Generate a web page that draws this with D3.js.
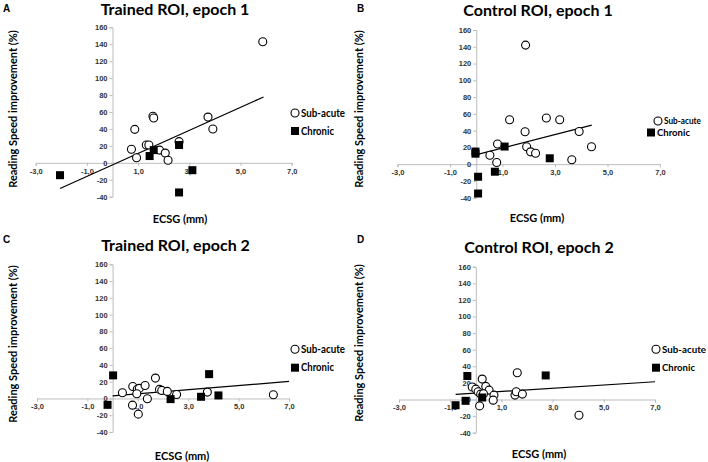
<!DOCTYPE html>
<html>
<head>
<meta charset="utf-8">
<script src="https://cdn.jsdelivr.net/npm/d3@7"></script>
<style>
  body { margin: 0; background: #fff; }
  svg { display: block; }
  .tick-label { font-family: "Liberation Sans", Arial, sans-serif; font-weight: bold; font-size: 7.5px; fill: #333; }
  .title { font-family: Lato, "Open Sans", sans-serif; font-weight: bold; font-size: 16px; fill: #000; }
  .axis-title { font-family: Lato, "Open Sans", sans-serif; font-weight: bold; font-size: 11px; fill: #000; }
  .legend-text { font-family: Lato, "Open Sans", sans-serif; font-weight: bold; fill: #000; }
  .letter { font-family: "Liberation Sans", Arial, sans-serif; font-weight: bold; font-size: 10px; fill: #000; }
</style>
</head>
<body>
<svg id="chart" width="708" height="462"></svg>
<script>
// ---- data ----
var xTicks = [-3, -1, 1, 3, 5, 7];
var yTicks = [-40, -20, 0, 20, 40, 60, 80, 100, 120, 140, 160];
var seriesNames = ['Sub-acute', 'Chronic'];
var panelLetters = ['A', 'B', 'C', 'D'];
var panelTitles = ['Trained ROI, epoch 1', 'Control ROI, epoch 1',
                   'Trained ROI, epoch 2', 'Control ROI, epoch 2'];
var xLabel = 'ECSG (mm)';
var yLabel = 'Reading Speed improvement (%)';

var subA = [[5.87, 143], [1.58, 55], [1.61, 53], [0.87, 39.5], [3.73, 54], [3.92, 40],
            [0.74, 16], [0.94, 6], [1.32, 21], [1.42, 21], [1.84, 15], [2.06, 11.5],
            [2.17, 3], [2.6, 25]];
var chrA = [[-2.05, -14.6], [1.45, 8], [1.61, 15], [2.6, 21], [3.12, -8.7], [2.6, -35]];
var trendA = [[-2.05, -30.4], [5.9, 77.8]];

var subB = [[1.88, 142], [1.27, 53], [2.67, 55], [3.18, 53], [1.86, 38.6], [3.92, 39],
            [0.81, 24], [1.92, 20.7], [4.39, 20.7], [2.07, 14.7], [2.26, 13], [0.52, 10.7],
            [0.78, 2], [3.64, 5.2]];
var chrB = [[-0.03, 15], [-0.03, 12.5], [0.07, -15], [0.07, -35], [0.71, -9], [1.08, 21], [2.8, 7]];
var trendB = [[-0.02, 11.1], [4.4, 46.6]];

var subC = [[0.39, 6.8], [0.8, 14.3], [0.79, -8], [0.98, 11], [1.06, 12], [0.96, 5.6],
            [1.02, -18.7], [1.29, 15.5], [1.38, -0.4], [1.7, 24.3], [1.86, 10.8], [1.95, 9.6],
            [2.17, 8.4], [2.54, 4.8], [3.76, 7.6], [6.38, 4.4]];
var chrC = [[0.02, 27.5], [-0.2, -7.6], [2.3, -0.8], [3.51, 2], [3.83, 29], [4.2, 3.6]];
var trendC = [[0, 3.2], [7, 20.3]];

var subD = [[1.62, 32.3], [0.25, 24.6], [-0.14, 15], [0, 12.5], [0.09, 9.3], [0.19, 6.5],
            [0.39, 15.8], [0.52, 11.3], [0.71, 5.3], [0.68, -0.8], [0.15, -7.7], [1.53, 5.3],
            [1.58, 9.3], [1.82, 6.5], [4.03, -19], [0.3, 7]];
var chrD = [[-0.33, 28.3], [-0.79, -6.9], [-0.4, -1.6], [0.25, 2.4], [2.73, 29]];
var trendD = [[-0.79, 6.1], [7, 21.4]];

var subacute = [subA, subB, subC, subD];
var chronic = [chrA, chrB, chrC, chrD];
var trends = [trendA, trendB, trendC, trendD];

// ---- layout of each panel (pixels) ----
// legW: widths the two legend texts take in the figure, legF: legend font size
var layout = [
    {x: [35.7, 291.7], y: [196.7, 27.3], title: [175, 15], letter: [3, 12],
     ylab: [13, 109], xlab: [180, 223], legC: [295, 113], legS: [295, 131], legW: [44, 33], legF: 10.5},
    {x: [397.5, 660], y: [197.7, 30], title: [538, 16], letter: [357, 12],
     ylab: [359, 109], xlab: [537, 222], legC: [658, 121], legS: [651, 132.5], legW: [37, 33], legF: 9},
    {x: [37, 289], y: [432, 264.3], title: [175.5, 251], letter: [3, 243],
     ylab: [13, 344], xlab: [182, 460], legC: [295, 349.3], legS: [295, 367.7], legW: [44, 33], legF: 10.5},
    {x: [399, 655], y: [432.7, 266.7], title: [539, 253], letter: [357, 243],
     ylab: [359, 343], xlab: [539, 458], legC: [656, 349.3], legS: [656, 367.7], legW: [44, 33], legF: 10}
];

var locale = d3.formatLocale({decimal: ',', thousands: '.', grouping: [3], currency: ['', ''], minus: '-'});
var fmtX = locale.format('.1f');
var fmtY = locale.format('d');

var svg = d3.select('#chart');

var draw_panel = function(i) {
    var L = layout[i];
    var x = d3.scaleLinear().domain([-3, 7]).range(L.x);
    var y = d3.scaleLinear().domain([-40, 160]).range(L.y);
    var g = svg.append('g').attr('class', 'panel');

    // axes crossing at zero
    var xAxis = d3.axisBottom(x).tickValues(xTicks).tickSize(3).tickFormat(fmtX);
    var yAxis = d3.axisLeft(y).tickValues(yTicks).tickSize(3).tickFormat(fmtY);

    var gx = g.append('g')
        .attr('transform', 'translate(0,' + y(0) + ')')
        .call(xAxis);
    var gy = g.append('g')
        .attr('transform', 'translate(' + x(0) + ',0)')
        .call(yAxis);

    [gx, gy].forEach(function(a) {
        a.select('.domain').attr('stroke', '#bdbdbd').attr('stroke-width', 1);
        a.selectAll('.tick line').attr('stroke', '#bdbdbd');
        a.selectAll('.tick text').attr('class', 'tick-label').attr('font-size', null).attr('font-family', null);
    });
    gx.selectAll('.tick text').attr('dy', '0.9em').attr('y', 4);
    gy.selectAll('.tick text').attr('x', -5);

    // trendline
    g.append('path')
        .datum(trends[i])
        .attr('d', d3.line().x(function(d) { return x(d[0]); }).y(function(d) { return y(d[1]); }))
        .attr('stroke', '#000')
        .attr('stroke-width', 1.2)
        .attr('fill', 'none');

    // sub-acute circles
    g.append('g').selectAll('circle')
        .data(subacute[i])
        .enter()
        .append('circle')
        .attr('cx', function(d) { return x(d[0]); })
        .attr('cy', function(d) { return y(d[1]); })
        .attr('r', 4)
        .attr('fill', '#fff')
        .attr('stroke', '#000')
        .attr('stroke-width', 1.1);

    // chronic squares
    var s = 8;
    g.append('g').selectAll('rect')
        .data(chronic[i])
        .enter()
        .append('rect')
        .attr('x', function(d) { return x(d[0]) - s / 2; })
        .attr('y', function(d) { return y(d[1]) - s / 2; })
        .attr('width', s)
        .attr('height', s)
        .attr('fill', '#000');

    // texts
    g.append('text').attr('class', 'title')
        .attr('x', L.title[0]).attr('y', L.title[1])
        .attr('text-anchor', 'middle')
        .text(panelTitles[i]);
    g.append('text').attr('class', 'letter')
        .attr('x', L.letter[0]).attr('y', L.letter[1])
        .text(panelLetters[i]);
    g.append('text').attr('class', 'axis-title')
        .attr('transform', 'translate(' + L.ylab[0] + ',' + L.ylab[1] + ') rotate(-90)')
        .attr('text-anchor', 'middle')
        .attr('dy', '0.35em')
        .text(yLabel);
    g.append('text').attr('class', 'axis-title')
        .attr('x', L.xlab[0]).attr('y', L.xlab[1])
        .attr('text-anchor', 'middle')
        .text(xLabel);

    // legend
    g.append('circle')
        .attr('cx', L.legC[0]).attr('cy', L.legC[1]).attr('r', 4)
        .attr('fill', '#fff').attr('stroke', '#000').attr('stroke-width', 1.1);
    g.append('text').attr('class', 'legend-text')
        .attr('x', L.legC[0] + 6).attr('y', L.legC[1]).attr('dy', '0.35em')
        .style('font-size', L.legF + 'px')
        .attr('textLength', L.legW[0]).attr('lengthAdjust', 'spacingAndGlyphs')
        .text(seriesNames[0]);
    g.append('rect')
        .attr('x', L.legS[0] - 4).attr('y', L.legS[1] - 4).attr('width', 8).attr('height', 8)
        .attr('fill', '#000');
    g.append('text').attr('class', 'legend-text')
        .attr('x', L.legS[0] + 6).attr('y', L.legS[1]).attr('dy', '0.35em')
        .style('font-size', L.legF + 'px')
        .attr('textLength', L.legW[1]).attr('lengthAdjust', 'spacingAndGlyphs')
        .text(seriesNames[1]);
};

for (var i = 0; i < 4; i++) draw_panel(i);
</script>
</body>
</html>
